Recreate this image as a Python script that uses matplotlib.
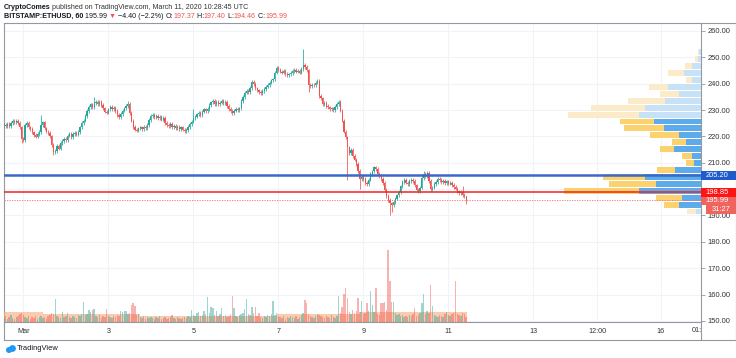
import matplotlib
matplotlib.use("Agg")
import matplotlib.pyplot as plt
from matplotlib.patches import Rectangle, Ellipse
from matplotlib.lines import Line2D
from matplotlib.transforms import blended_transform_factory

plt.rcParams['font.family'] = ['Liberation Sans', 'DejaVu Sans']

W, H = 736, 358

#-------------- data (hourly ETHUSD, hours since Mar 1 00:00 UTC) --------------
first_hour = -11
first_open = 224.0
closes = [
    224.3, 223.8, 224.6, 223.9, 225.2, 225.8, 225.4, 225.9, 225.0, 223.4, 219.0,
    # Mar 1
    218.6, 224.3, 225.0, 223.4, 222.8, 221.5, 220.4, 219.9, 220.8, 221.6, 224.2, 225.3,
    223.0, 221.8, 221.2, 220.0, 216.8, 214.0, 214.5, 216.3, 215.4, 217.6, 218.3, 219.1,
    # Mar 2
    218.7, 220.3, 220.9, 219.8, 221.0, 221.4, 220.7, 221.6, 223.4, 225.2, 226.0, 227.8,
    229.6, 231.2, 232.1, 231.0, 232.6, 233.2, 232.4, 233.0, 231.8, 230.6, 229.4, 229.0,
    # Mar 3
    230.2, 231.3, 230.5, 230.9, 229.6, 228.0, 227.2, 228.4, 229.8, 230.6, 231.4, 232.3,
    228.9, 226.0, 223.5, 222.6, 222.2, 223.0, 223.4, 222.9, 223.6, 223.3, 224.2, 226.1,
    # Mar 4
    227.6, 228.2, 227.3, 227.9, 226.8, 227.5, 226.4, 226.9, 225.2, 224.3, 223.8, 224.6,
    223.5, 223.9, 223.0, 223.6, 222.8, 223.4, 222.6, 222.1, 222.5, 223.6, 224.8, 225.6,
    # Mar 5
    226.9, 227.5, 228.3, 228.9, 228.1, 229.4, 230.2, 229.5, 230.4, 231.8, 232.9, 233.4,
    232.2, 233.0, 232.4, 232.8, 233.5, 232.7, 233.1, 231.6, 230.4, 229.6, 228.9, 229.8,
    # Mar 6
    230.3, 230.0, 230.6, 233.5, 235.0, 236.6, 237.3, 236.8, 238.4, 240.6, 239.8, 238.2,
    237.4, 236.8, 236.3, 237.2, 238.0, 238.9, 239.6, 240.4, 241.2, 241.6, 244.2, 246.0,
    # Mar 7
    245.1, 244.6, 244.2, 244.8, 243.6, 243.2, 243.5, 244.1, 244.8, 245.3, 244.6, 244.9,
    244.2, 245.6, 247.0, 246.2, 245.0, 239.4, 239.0, 239.6, 239.3, 240.4, 241.0, 235.2,
    # Mar 8
    234.4, 232.3, 232.8, 231.4, 231.0, 230.4, 230.6, 230.0, 231.2, 232.4, 233.2, 229.8,
    226.0, 221.8, 219.6, 215.8, 213.6, 214.8, 212.6, 211.2, 209.5, 207.0, 203.9, 204.6,
    # Mar 9
    203.8, 202.4, 201.8, 203.6, 205.8, 206.7, 208.2, 207.5, 205.9, 205.0, 203.9, 202.2,
    199.6, 197.4, 195.8, 194.6, 193.8, 195.2, 196.4, 197.6, 198.9, 201.0, 202.8, 203.4,
    # Mar 10
    202.5, 202.0, 203.1, 203.6, 203.0, 201.4, 199.8, 199.2, 200.6, 204.2, 205.8, 205.0,
    206.1, 203.2, 199.9, 200.6, 202.0, 202.7, 203.8, 203.4, 202.6, 203.1, 202.2, 202.9,
    # Mar 11
    202.1, 202.3, 201.6, 200.8, 200.2, 199.1, 198.6, 198.9, 197.7, 197.37, 195.99,
]
# long wicks (hour -> price); other candles get a short wick
wick_hi = {10: 228.0, 40: 234.8, 59: 233.6, 96: 230.5, 158: 253.2, 226: 207.0,
           248: 201.2, 250: 197.40}
wick_lo = {-1: 217.6, 0: 217.8, 17: 213.0, 161: 236.7, 183: 203.5, 190: 200.0,
           207: 190.2, 208: 191.5, 250: 194.46}
short_wick = 0.7

volumes = [
    4, 6, 3, 5, 7, 4, 3, 5, 6, 8, 9,
    7, 5, 4, 6, 3, 5, 4, 6, 3, 5, 6, 4, 5, 3, 6, 7, 9, 8, 23, 6, 5, 4, 10, 5,
    6, 9, 5, 4, 6, 5, 4, 7, 6, 8, 20, 7, 8, 12, 10, 12, 13, 6, 5, 7, 4, 6, 5, 13,
    6, 5, 4, 6, 5, 7, 6, 11, 10, 11, 11, 8, 9, 17, 19, 16, 7, 8, 5, 4, 6, 3, 5, 4,
    5, 4, 3, 5, 4, 6, 3, 4, 5, 3, 4, 5, 7, 4, 3, 5, 4, 3, 4, 5, 4, 6, 5, 12,
    7, 6, 9, 10, 6, 7, 11, 8, 25, 9, 15, 14, 7, 11, 6, 8, 14, 6, 7, 5, 6, 8, 26, 14,
    6, 5, 7, 8, 9, 13, 23, 8, 7, 15, 9, 15, 6, 9, 5, 4, 6, 5, 7, 6, 8, 21, 7, 9,
    6, 5, 4, 6, 3, 5, 4, 6, 5, 4, 6, 3, 5, 7, 9, 22, 19, 8, 6, 5, 4, 6, 8, 7,
    6, 5, 4, 6, 5, 4, 7, 5, 4, 6, 26, 9, 15, 28, 34, 24, 10, 8, 12, 9, 11, 24, 10, 21,
    8, 9, 19, 11, 31, 17, 10, 34, 8, 7, 19, 19, 20, 12, 72, 41, 20, 20, 9, 7, 8, 6, 7, 5,
    6, 5, 7, 6, 8, 14, 6, 7, 9, 19, 28, 8, 11, 9, 37, 16, 7, 6, 5, 7, 6, 5, 8, 10,
    7, 6, 8, 9, 41, 8, 7, 6, 9, 8, 5,
]
vol_avg_edges = [-11.5, 11, 66, 143, 190, 250.5]
vol_avg = [10, 8, 6, 8, 10.5]

# visible-range volume profile, rows from top (253.2) down to 190.2
vp_top = 253.2
vp_step = 2.625
vp_up = [1.7, 3.3, 9, 16.7, 9, 33.3, 22.3, 35.7, 56.3, 62.3, 47.3, 36.7,
         22.3, 15, 26.7, 9, 7.3, 25.7, 55.7, 44.7, 61.7, 19, 22.3, 4.7]
vp_down = [1.7, 3, 6.7, 16.7, 6, 19, 19, 37.3, 53.7, 71, 34, 40.7,
           28.3, 14, 14.7, 10, 7.3, 18.3, 42.7, 47.7, 75.7, 26, 15, 9.3]
vp_value_area = range(10, 23)

line_level = 205.20
poc_level = 198.85
last_price = 195.99

date_ticks = [0, 48, 96, 144, 192, 240, 288, 324, 360]
date_labels = ['Mar', '3', '5', '7', '9', '11', '13', '12:00', '16']
price_ticks = list(range(150, 261, 10))
hidden_price_labels = [200]   # covered by the price tags on the chart

#-------------- colors --------------
UP = '#26a69a'
DOWN = '#ef5350'
GRID = '#f0f3fa'
FRAME = '#9598a1'
TXT = '#131722'

fig = plt.figure(figsize=(W / 100, H / 100), dpi=100)
L, R, T, B = 3.5, 701, 23, 322
rect = [L / W, 1 - B / H, (R - L) / W, (B - T) / H]
ax = fig.add_axes(rect)
ax.set_xlim(-11.2, 382.6)
ax.set_ylim(149.6, 263.0)

# volume pane (created first: twinx moves ax's ticks, fixed below)
ax_vol = ax.twinx()
ax_vol.set_ylim(0, B - T)
ax_vol.set_yticks([])
for s in ax_vol.spines.values():
    s.set_visible(False)

# volume profile pane
ax_vp = ax.twiny()
ax_vp.set_xlim(R - L, 0)
ax_vp.set_xticks([])
for s in ax_vp.spines.values():
    s.set_visible(False)

ax.set_axisbelow(True)
ax.grid(True, color=GRID, lw=0.8)
ax.set_xticks(date_ticks)
ax.set_xticklabels(date_labels)
ax.xaxis.tick_bottom()
ax.set_yticks(price_ticks)
ax.set_yticklabels(['' if p in hidden_price_labels else '%.2f' % p for p in price_ticks])
ax.yaxis.tick_right()
ax.tick_params(axis='y', which='both', left=False, labelleft=False, right=True,
               labelright=True, length=3, width=0.6, color=FRAME, pad=1.5,
               labelsize=5.4, labelcolor='#333333')
ax.tick_params(axis='x', length=0, pad=4.2, labelsize=5.2, labelcolor='#333333')
for s in ax.spines.values():
    s.set_color(FRAME)
    s.set_linewidth(0.8)

# candles
hours, opens, highs, lows, ups = [], [], [], [], []
prev = first_open
for i, c in enumerate(closes):
    h = first_hour + i
    o = prev
    hi = wick_hi.get(h, max(o, c) + short_wick)
    lo = wick_lo.get(h, min(o, c) - short_wick)
    hours.append(h)
    opens.append(o)
    highs.append(hi)
    lows.append(lo)
    ups.append(c >= o)
    prev = c

cols = [UP if u else DOWN for u in ups]
ax.vlines(hours, lows, highs, colors=cols, lw=0.55, zorder=3)
bottoms = [min(o, c) for o, c in zip(opens, closes)]
heights = [max(abs(c - o), 0.25) for o, c in zip(opens, closes)]
ax.bar(hours, heights, bottom=bottoms, width=0.7, color=cols, lw=0, zorder=4)

# volume bars and average band
ax_vol.stairs(vol_avg, vol_avg_edges, fill=True, color='#f9a97a', alpha=0.6,
              lw=0, zorder=1)
vcols = [(0.15, 0.65, 0.6, 0.45) if u else (0.94, 0.33, 0.31, 0.45) for u in ups]
ax_vol.bar(hours, volumes, width=0.8, color=vcols, lw=0, zorder=2)

# volume profile rows
for r, (u, d) in enumerate(zip(vp_up, vp_down)):
    yc = vp_top - vp_step * (r + 0.5)
    inside = r in vp_value_area
    cu = '#5eabeb' if inside else '#c7e1f6'
    cd = '#fbd26e' if inside else '#fcebc8'
    ax_vp.barh(yc, u, left=0, height=vp_step * 0.86, color=cu, lw=0)
    ax_vp.barh(yc, d, left=u, height=vp_step * 0.86, color=cd, lw=0)

ax_vp.axhline(line_level, color='#3b68c9', lw=1.8, zorder=6)
ax_vp.axhline(poc_level, color='#ee2222', lw=1.1, zorder=6)
ax_vp.axhline(last_price, color='#ef7070', lw=0.6, ls=(0, (1.5, 1.5)), zorder=6)

# right-axis price tags
tr = blended_transform_factory(fig.transFigure, ax.transData)
px = 1 / 2.636
ph = 9 * px
tags = [(line_level, '205.20', '#1f5bcc', R, 0),
        (last_price, '195.99', '#f06460', R, 0.6 * px),
        (poc_level, '198.85', '#ff1414', R, 0),
        (last_price - 9.4 * px, '31:27', '#f06460', 706, 0)]
for k, (p, txt, c, x0, shift) in enumerate(tags):
    fig.add_artist(Rectangle((x0 / W, p - shift - ph / 2), (W - x0) / W, ph, transform=tr,
                             color=c, lw=0, zorder=5 + 2 * k))
    fig.text((x0 + (4.5 if x0 == R else 6)) / W, p - shift, txt, transform=tr,
             color='white', fontsize=5.4, va='center', ha='left', zorder=6 + 2 * k)

fig.text(697 / W, 1 - 330.5 / H, '01:', fontsize=5.2, color='#333333',
         ha='center', va='center')

# frame lines outside the axes
def fline(x0, y0, x1, y1):
    fig.add_artist(Line2D([x0 / W, x1 / W], [1 - y0 / H, 1 - y1 / H], color=FRAME, lw=0.8))

fline(R, T, W - 0.5, T)
fline(L, 340, W - 0.5, 340)
fline(L, B, L, 340)
fline(R, B, R, 340)
fline(W - 0.5, T, W - 0.5, 340)

# header
renderer = fig.canvas.get_renderer()

def put_row(y, pieces, size):
    x = 3.5
    for txt, col, bold in pieces:
        t = fig.text(x / W, 1 - y / H, txt, fontsize=size, color=col,
                     fontweight='bold' if bold else 'normal', va='center', ha='left')
        x += t.get_window_extent(renderer=renderer).width

put_row(7.5, [('CryptoComes', TXT, True),
              (' published on TradingView.com, March 11, 2020 10:28:45 UTC', '#333333', False)], 5.1)
put_row(16.5, [('BITSTAMP:ETHUSD, 60', TXT, True), (' 195.99 ', TXT, False),
               ('\u25bc', DOWN, False), (' \u22124.40 (\u22122.2%) ', TXT, False),
               ('O:', TXT, False), ('197.37', DOWN, False),
               (' H:', TXT, False), ('197.40', DOWN, False),
               (' L:', TXT, False), ('194.46', DOWN, False),
               (' C:', TXT, False), ('195.99', DOWN, False)], 5.1)

# TradingView logo
for cx, cy, r in [(9, 350, 3.0), (12.5, 348.5, 3.4)]:
    fig.add_artist(Ellipse((cx / W, 1 - cy / H), 2 * r / W, 2 * r / H,
                           transform=fig.transFigure, color='#2196f3', lw=0))
fig.text(17 / W, 1 - 349 / H, 'TradingView', fontsize=5.4, color=TXT,
         va='center', ha='left')

fig.savefig('out.png', dpi=100)
